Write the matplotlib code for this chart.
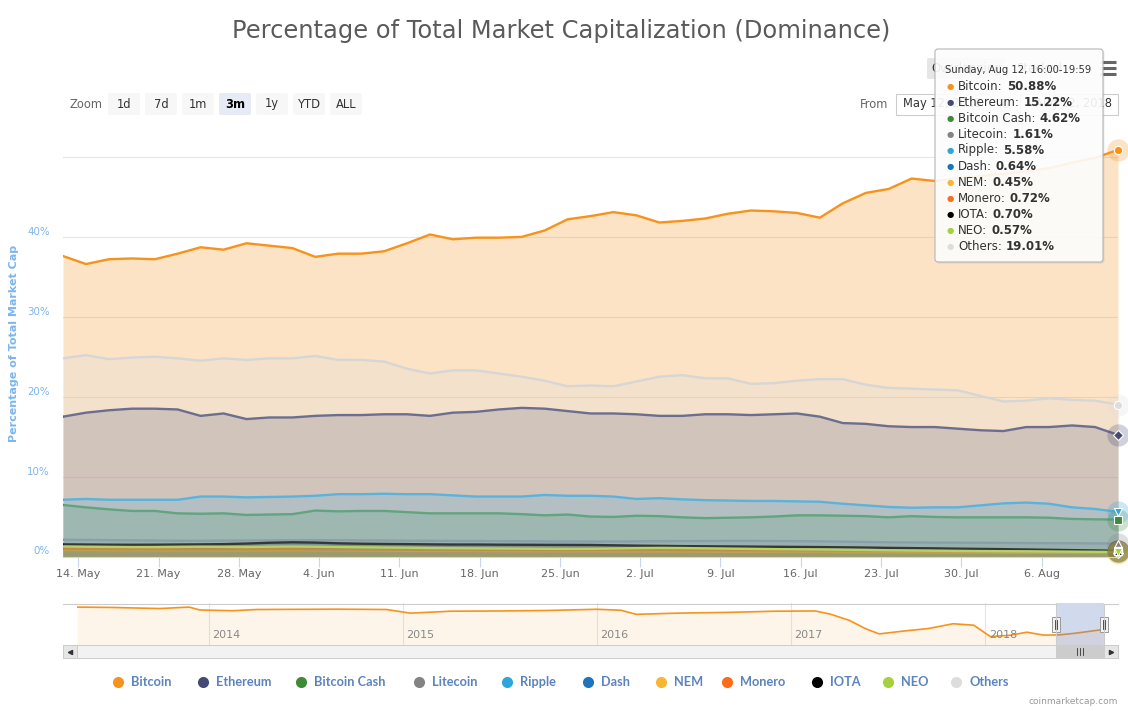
import numpy as np
import pandas as pd
import matplotlib
matplotlib.use("Agg")
import matplotlib.pyplot as plt
import matplotlib.dates as mdates
from matplotlib.patches import FancyBboxPatch, Rectangle
from matplotlib.ticker import FuncFormatter
from matplotlib.transforms import ScaledTranslation

W, H = 1128, 711

# 4h data sampled every 2 days, May 12 16:00 -> Aug 12 16:00
dates = pd.date_range("2018-05-12 16:00", periods=47, freq="2D")

bitcoin = [37.6, 36.6, 37.2, 37.3, 37.2, 37.9, 38.7, 38.4, 39.2, 38.9,
           38.6, 37.5, 37.9, 37.9, 38.2, 39.2, 40.3, 39.7, 39.9, 39.9,
           40.0, 40.8, 42.2, 42.6, 43.1, 42.7, 41.8, 42.0, 42.3, 42.9,
           43.3, 43.2, 43.0, 42.4, 44.2, 45.5, 46.0, 47.3, 47.0, 47.3,
           47.6, 47.9, 48.2, 48.6, 49.3, 49.9, 50.88]
ethereum = [17.5, 18.0, 18.3, 18.5, 18.5, 18.4, 17.6, 17.9, 17.2, 17.4,
            17.4, 17.6, 17.7, 17.7, 17.8, 17.8, 17.6, 18.0, 18.1, 18.4,
            18.6, 18.5, 18.2, 17.9, 17.9, 17.8, 17.6, 17.6, 17.8, 17.8,
            17.7, 17.8, 17.9, 17.5, 16.7, 16.6, 16.3, 16.2, 16.2, 16.0,
            15.8, 15.7, 16.2, 16.2, 16.4, 16.2, 15.22]
bitcoin_cash = [6.45, 6.15, 5.9, 5.7, 5.7, 5.4, 5.35, 5.4, 5.2, 5.25,
                5.3, 5.75, 5.65, 5.7, 5.7, 5.55, 5.4, 5.4, 5.4, 5.4,
                5.3, 5.15, 5.25, 5.0, 4.95, 5.1, 5.05, 4.9, 4.8, 4.85,
                4.9, 5.0, 5.15, 5.15, 5.1, 5.05, 4.9, 5.05, 4.95, 4.9,
                4.9, 4.9, 4.9, 4.85, 4.7, 4.65, 4.62]
litecoin = [2.10, 2.08, 2.05, 2.02, 2.00, 1.98, 1.97, 1.99, 2.00, 2.02,
            2.03, 2.05, 2.04, 2.02, 2.00, 1.98, 1.96, 1.95, 1.94, 1.93,
            1.92, 1.90, 1.88, 1.87, 1.88, 1.90, 1.92, 1.93, 1.94, 1.95,
            1.95, 1.94, 1.92, 1.90, 1.86, 1.82, 1.78, 1.76, 1.74, 1.73,
            1.72, 1.70, 1.68, 1.67, 1.66, 1.64, 1.61]
ripple = [7.1, 7.2, 7.1, 7.1, 7.1, 7.1, 7.5, 7.5, 7.4, 7.45,
          7.5, 7.6, 7.8, 7.8, 7.85, 7.8, 7.8, 7.65, 7.5, 7.5,
          7.5, 7.7, 7.6, 7.6, 7.5, 7.2, 7.3, 7.15, 7.05, 7.0,
          6.95, 6.95, 6.9, 6.85, 6.6, 6.4, 6.2, 6.1, 6.15, 6.15,
          6.4, 6.65, 6.75, 6.6, 6.15, 5.95, 5.58]
dash = [0.98, 0.97, 0.96, 0.95, 0.94, 0.94, 0.93, 0.93, 0.94, 0.95,
        0.95, 0.93, 0.91, 0.90, 0.89, 0.88, 0.87, 0.86, 0.85, 0.84,
        0.83, 0.82, 0.81, 0.81, 0.82, 0.83, 0.83, 0.82, 0.81, 0.80,
        0.79, 0.78, 0.77, 0.76, 0.75, 0.74, 0.73, 0.72, 0.71, 0.70,
        0.69, 0.68, 0.67, 0.66, 0.65, 0.65, 0.64]
nem = [0.82, 0.81, 0.80, 0.79, 0.78, 0.77, 0.77, 0.76, 0.76, 0.77,
       0.78, 0.77, 0.75, 0.74, 0.72, 0.71, 0.70, 0.69, 0.68, 0.67,
       0.66, 0.65, 0.64, 0.64, 0.63, 0.63, 0.62, 0.62, 0.61, 0.60,
       0.59, 0.58, 0.57, 0.56, 0.55, 0.54, 0.53, 0.52, 0.51, 0.50,
       0.49, 0.48, 0.47, 0.47, 0.46, 0.46, 0.45]
monero = [0.95, 0.94, 0.93, 0.92, 0.92, 0.91, 0.90, 0.90, 0.91, 0.92,
          0.92, 0.90, 0.88, 0.87, 0.86, 0.85, 0.84, 0.83, 0.82, 0.82,
          0.81, 0.80, 0.80, 0.81, 0.82, 0.82, 0.81, 0.80, 0.80, 0.79,
          0.79, 0.78, 0.78, 0.77, 0.77, 0.76, 0.76, 0.75, 0.75, 0.74,
          0.74, 0.73, 0.73, 0.73, 0.72, 0.72, 0.72]
iota = [1.52, 1.50, 1.48, 1.47, 1.48, 1.50, 1.52, 1.55, 1.62, 1.72,
        1.78, 1.74, 1.65, 1.60, 1.57, 1.55, 1.52, 1.50, 1.50, 1.48,
        1.47, 1.46, 1.45, 1.44, 1.40, 1.36, 1.33, 1.30, 1.28, 1.26,
        1.24, 1.22, 1.20, 1.18, 1.15, 1.12, 1.08, 1.05, 1.02, 0.98,
        0.95, 0.92, 0.88, 0.84, 0.80, 0.76, 0.70]
neo = [1.25, 1.22, 1.20, 1.18, 1.18, 1.20, 1.22, 1.20, 1.18, 1.22,
       1.25, 1.22, 1.18, 1.15, 1.12, 1.10, 1.06, 1.04, 1.02, 1.00,
       0.98, 0.96, 0.95, 0.96, 1.00, 1.05, 1.08, 1.06, 1.02, 0.98,
       0.95, 0.92, 0.90, 0.88, 0.85, 0.82, 0.78, 0.75, 0.72, 0.70,
       0.68, 0.66, 0.65, 0.63, 0.61, 0.59, 0.57]
others = [24.8, 25.2, 24.7, 24.9, 25.0, 24.8, 24.5, 24.8, 24.6, 24.8,
          24.8, 25.1, 24.6, 24.6, 24.4, 23.5, 22.9, 23.3, 23.3, 22.9,
          22.5, 22.0, 21.3, 21.4, 21.3, 21.9, 22.5, 22.7, 22.3, 22.3,
          21.6, 21.7, 22.0, 22.2, 22.2, 21.5, 21.1, 21.0, 20.9, 20.8,
          20.1, 19.4, 19.5, 19.8, 19.6, 19.5, 19.01]

names = ["Bitcoin", "Ethereum", "Bitcoin Cash", "Litecoin", "Ripple", "Dash",
         "NEM", "Monero", "IOTA", "NEO", "Others"]
values = [bitcoin, ethereum, bitcoin_cash, litecoin, ripple, dash,
          nem, monero, iota, neo, others]
colors = ["#f7931a", "#454a75", "#3e8a36", "#838383", "#2ea6dc", "#1c75bc",
          "#f8b732", "#ff6b1a", "#000000", "#a5d13a", "#dddddd"]
markers = ["o", "D", "s", "^", "v", "o", "D", "s", "^", "v", "o"]

# navigator: bitcoin dominance full history
nav_dates = pd.to_datetime([
    "2013-04-28", "2013-07-01", "2013-10-01", "2013-11-25", "2013-12-15",
    "2014-02-15", "2014-04-01", "2014-06-01", "2014-09-01", "2014-12-01",
    "2015-01-15", "2015-04-01", "2015-07-01", "2015-10-01", "2016-01-01",
    "2016-02-15", "2016-03-15", "2016-06-01", "2016-09-01", "2016-12-01",
    "2017-02-15", "2017-03-15", "2017-04-20", "2017-05-20", "2017-06-15",
    "2017-08-01", "2017-09-15", "2017-11-01", "2017-12-10", "2018-01-10",
    "2018-02-15", "2018-03-20", "2018-04-20", "2018-05-20", "2018-06-20",
    "2018-08-10"])
nav_btc = [94.5, 93.8, 91.5, 94.5, 88.5, 87.0, 89.5, 89.8, 90.2, 89.5,
           82.0, 86.0, 86.5, 87.5, 90.0, 88.0, 79.5, 82.0, 83.5, 86.0,
           86.5, 80.0, 67.0, 50.0, 39.0, 45.0, 50.0, 60.0, 57.0, 33.5,
           36.0, 42.5, 36.5, 37.0, 40.5, 48.0]

tooltip_head = "Sunday, Aug 12, 16:00-19:59"
tooltip_vals = ["50.88%", "15.22%", "4.62%", "1.61%", "5.58%", "0.64%",
                "0.45%", "0.72%", "0.70%", "0.57%", "19.01%"]
zoom_buttons = ["1d", "7d", "1m", "3m", "1y", "YTD", "ALL"]
legend_dot_x = [118, 203, 301, 419, 507, 588, 661, 727, 817, 888, 956]

plt.rcParams['font.family'] = ['DejaVu Sans']

fig = plt.figure(figsize=(W / 100, H / 100), dpi=100)


def fx(x):
    return x / W


def fy(y):
    return 1 - y / H


# ---- main chart
ax = fig.add_axes([fx(63), fy(556.5), (1118 - 63) / W, (556.5 - 145) / H])
for i, (n, v, c) in enumerate(zip(names, values, colors)):
    z = 2 + i
    ax.fill_between(dates, 0, v, color=c, alpha=0.25, lw=0, zorder=z)
    lc = "#d6d6d6" if n == "Others" else c
    ax.plot(dates, v, color=lc, lw=1.7, zorder=z + 0.5, solid_joinstyle="round")

# hover halos + markers on last point
for i, (v, c, m) in enumerate(zip(values, colors, markers)):
    ax.plot(dates[-1], v[-1], marker="o", ms=16, color=c, alpha=0.25,
            mec="none", zorder=20 + i, clip_on=False)
for i, (v, c, m) in enumerate(zip(values, colors, markers)):
    ax.plot(dates[-1], v[-1], marker=m, ms=6 if m != "D" else 5, color=c,
            mec="white", mew=0.8, zorder=35 + i, clip_on=False)

ax.set_xlim(dates[0], dates[-1])
ax.set_ylim(0, 51.5)
ax.set_yticks([0, 10, 20, 30, 40, 50])
ax.set_yticklabels(["0%", "10%", "20%", "30%", "40%", ""])
ax.yaxis.grid(True, color="#e6e6e6", lw=0.8)
ax.set_axisbelow(True)
for s in ["top", "left", "right"]:
    ax.spines[s].set_visible(False)
ax.spines["bottom"].set_color("#ccd6eb")
ax.spines["bottom"].set_linewidth(0.8)
ax.spines["bottom"].set_zorder(50)

ax.xaxis.set_major_locator(mdates.WeekdayLocator(byweekday=mdates.MO))
ax.xaxis.set_major_formatter(FuncFormatter(
    lambda v, p: f"{mdates.num2date(v).day}. {mdates.num2date(v):%b}"))
ax.tick_params(axis="x", length=7, width=0.8, color="#ccd6eb",
               labelcolor="#666666", labelsize=8, pad=2)
ax.tick_params(axis="y", length=0, labelcolor="#7cb5ec", labelsize=7.4, pad=9.5)
for lab in ax.get_yticklabels():
    lab.set_transform(lab.get_transform() + ScaledTranslation(0, 0.06, fig.dpi_scale_trans))

fig.text(fx(14), fy(343), "Percentage of Total Market Cap", rotation=90,
         ha="center", va="center", color="#7cb5ec", fontweight="bold", fontsize=8)

fig.text(fx(561), fy(31), "Percentage of Total Market Capitalization (Dominance)",
         ha="center", va="center", color="#5a5a5a", fontsize=17.4)

# ---- navigator
nav = fig.add_axes([fx(77), fy(645), (1104 - 77) / W, (645 - 603) / H])
nav.fill_between(nav_dates, 16, nav_btc, color="#f7931a", alpha=0.09, lw=0)
nav.plot(nav_dates, nav_btc, color="#f7931a", lw=1.2)
nav.set_xlim(pd.Timestamp("2013-04-28"), pd.Timestamp("2018-08-12"))
nav.set_ylim(16, 103)
years = pd.to_datetime(["2014-01-01", "2015-01-01", "2016-01-01",
                        "2017-01-01", "2018-01-01"])
for yd in years:
    nav.axvline(yd, color="#e6e6e6", lw=0.8, zorder=0)
    nav.text(yd + pd.Timedelta(days=6), 36, yd.strftime("%Y"), color="#888888",
             fontsize=8, va="center", ha="left")
nav.set_xticks([])
nav.set_yticks([])
for s in nav.spines.values():
    s.set_visible(False)

# ---- overlay in pixel coordinates
ov = fig.add_axes([0, 0, 1, 1])
ov.set_xlim(0, W)
ov.set_ylim(H, 0)
ov.axis("off")
ov.patch.set_alpha(0)

# range selector
ov.text(70, 104, "Zoom", color="#666666", fontsize=8.3, va="center", ha="left")
for i, b in enumerate(zoom_buttons):
    x0 = 108 + 37 * i
    sel = b == "3m"
    ov.add_patch(FancyBboxPatch((x0, 93), 32, 22, boxstyle="round,pad=0,rounding_size=2",
                                fc="#e6ebf5" if sel else "#f7f7f7", ec="none"))
    ov.text(x0 + 16, 104, b, color="#000000" if sel else "#333333", fontsize=8.3,
            ha="center", va="center", fontweight="bold" if sel else "normal")

ov.text(860, 104, "From", color="#666666", fontsize=8.3, va="center", ha="left")
ov.add_patch(Rectangle((896, 93.5), 94, 21, fc="white", ec="#cccccc", lw=0.8))
ov.text(903, 104, "May 12, 2018", color="#333333", fontsize=8.3, va="center")
ov.text(997, 104, "To", color="#666666", fontsize=8.3, va="center")
ov.add_patch(Rectangle((1020, 93.5), 98, 21, fc="white", ec="#cccccc", lw=0.8))
ov.text(1112, 104, "Aug 12, 2018", color="#333333", fontsize=8.3, va="center", ha="right")

# overlapping / stacked toggle and menu
ov.add_patch(FancyBboxPatch((927, 58), 78, 21, boxstyle="round,pad=0,rounding_size=2",
                            fc="#e6e6e6", ec="none"))
ov.text(966, 68.5, "Overlapping", color="#333333", fontsize=8.3, ha="center", va="center")
ov.text(1016, 68.5, "Stacked", color="#333333", fontsize=8.3, va="center")
for yy in (62, 68, 74):
    ov.plot([1100, 1116], [yy, yy], color="#666666", lw=2.2, solid_capstyle="butt")

# navigator mask, outline, handles
ov.add_patch(Rectangle((1056, 603), 48, 42, fc="#6685c2", alpha=0.3, ec="none"))
ov.plot([63, 1056], [603.5, 603.5], color="#cccccc", lw=0.8)
ov.plot([1056, 1056], [603.5, 645], color="#cccccc", lw=0.8)
ov.plot([1104, 1104], [603.5, 645], color="#cccccc", lw=0.8)
ov.plot([1104, 1118], [603.5, 603.5], color="#cccccc", lw=0.8)
for hx in (1056, 1104):
    ov.add_patch(Rectangle((hx - 4, 617), 8, 15, fc="#f2f2f2", ec="#999999", lw=0.7))
    for dx in (-1.3, 1.3):
        ov.plot([hx + dx, hx + dx], [620, 629], color="#333333", lw=0.6)

# scrollbar
ov.add_patch(Rectangle((63, 645), 1055, 13, fc="#f2f2f2", ec="#cccccc", lw=0.7))
ov.add_patch(Rectangle((63, 645), 14, 13, fc="#e6e6e6", ec="#cccccc", lw=0.7))
ov.add_patch(Rectangle((1104, 645), 14, 13, fc="#e6e6e6", ec="#cccccc", lw=0.7))
ov.add_patch(Rectangle((1056, 645), 48, 13, fc="#cccccc", ec="#cccccc", lw=0.7))
ov.plot(70, 651.5, marker="<", ms=3, color="#333333")
ov.plot(1111, 651.5, marker=">", ms=3, color="#333333")
for gx in (1077, 1080, 1083):
    ov.plot([gx, gx], [648, 655], color="#333333", lw=0.6)

# legend
for x0, n, c in zip(legend_dot_x, names, colors):
    ov.plot(x0, 682, marker="o", ms=8, color=c, mec="none")
    ov.text(x0 + 13, 682.5, n, color="#5b84be", fontsize=9.2, fontweight="bold",
            family=["Lato", "DejaVu Sans"], va="center", ha="left")

ov.text(1118, 701, "coinmarketcap.com", color="#999999", fontsize=6.5,
        ha="right", va="center")

# tooltip (drawn above everything in the overlay)
ov.add_patch(FancyBboxPatch((936.5, 50.5), 168, 213, boxstyle="round,pad=0,rounding_size=3",
                            fc="#000000", alpha=0.08, ec="none", zorder=10))
ov.add_patch(FancyBboxPatch((935, 49), 168, 213, boxstyle="round,pad=0,rounding_size=3",
                            fc=(1, 1, 1, 0.9), ec="#b5b5b5", lw=0.8, zorder=11))
ov.text(945, 70, tooltip_head, color="#333333", fontsize=7.2, va="center", zorder=12)
renderer = fig.canvas.get_renderer()
for i, (n, c, val) in enumerate(zip(names, colors, tooltip_vals)):
    yy = 86 + 16 * i
    ov.text(947, yy, "\u25cf", color=c, fontsize=6, va="center", zorder=12)
    t = ov.text(958, yy, n + ":", color="#333333", fontsize=8.5, va="center", zorder=12)
    wpx = t.get_window_extent(renderer).width
    ov.text(958 + wpx + 4, yy, val, color="#333333", fontsize=8.5,
            va="center", fontweight="bold", zorder=12)

fig.savefig("out.png", dpi=100)
